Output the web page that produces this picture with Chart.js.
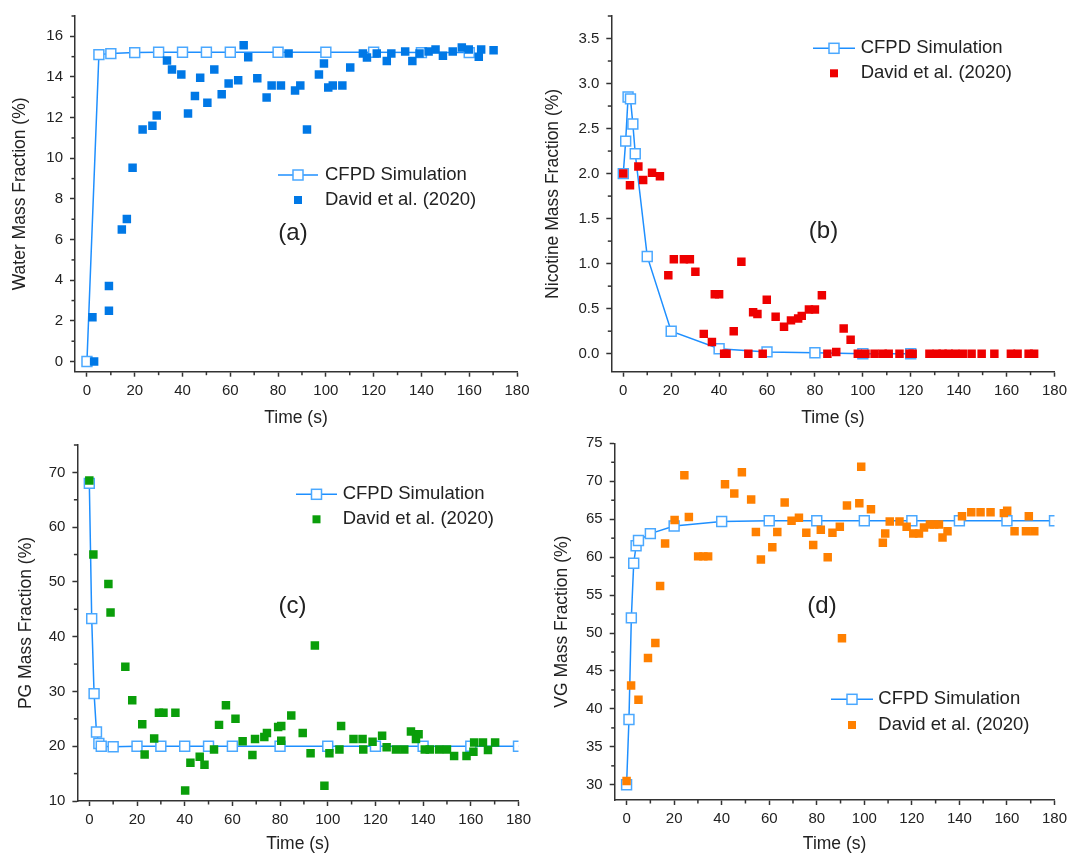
<!DOCTYPE html>
<html>
<head>
<meta charset="utf-8">
<script src="https://cdn.jsdelivr.net/npm/chart.js@4.4.1/dist/chart.umd.min.js"></script>
<style>
  html, body { margin: 0; padding: 0; background: #fff; }
  #page { position: relative; width: 1072px; height: 855px; overflow: hidden; }
  #page canvas { position: absolute; }
</style>
</head>
<body>
<div id="page">
  <canvas id="chartA" width="536" height="440" style="left:0;top:0"></canvas>
  <canvas id="chartB" width="536" height="440" style="left:536px;top:0"></canvas>
  <canvas id="chartC" width="536" height="435" style="left:0;top:420px"></canvas>
  <canvas id="chartD" width="536" height="435" style="left:536px;top:420px"></canvas>
</div>
<script>
// Tick values
const timeTicks = [0, 20, 40, 60, 80, 100, 120, 140, 160, 180];
const waterTicks = [0, 2, 4, 6, 8, 10, 12, 14, 16];
const nicotineTicks = [0, 0.5, 1, 1.5, 2, 2.5, 3, 3.5];
const pgTicks = [10, 20, 30, 40, 50, 60, 70];
const vgTicks = [30, 35, 40, 45, 50, 55, 60, 65, 70, 75];

// (a) water
const waterSimT = [0, 5, 10, 20, 30, 40, 50, 60, 80, 100, 120, 140, 160];
const waterSimY = [0, 15.1, 15.15, 15.2, 15.22, 15.22, 15.22, 15.22, 15.22, 15.22, 15.22, 15.2, 15.2];
const waterExpT = [2.3, 3, 9.2, 9.2, 14.6, 16.7, 19.1, 23.3, 27.4, 29.2, 33.5, 35.6, 39.5, 42.3, 45.2, 47.4,
  50.4, 53.3, 56.4, 59.3, 63.3, 65.6, 67.5, 71.3, 75.2, 77.3, 81.2, 84.4, 87.1, 89.3, 92.1, 97.1, 99.2,
  101, 102.9, 106.9, 110.2, 115.5, 117.2, 121.3, 125.5, 127.4, 133.2, 136.2, 139.2, 143, 145.9, 149,
  153.1, 156.9, 159.8, 164, 165, 170.2];
const waterExpY = [2.18, 0, 3.72, 2.5, 6.5, 7.01, 9.53, 11.42, 11.6, 12.1, 14.81, 14.37, 14.12, 12.2, 13.06, 13.96,
  12.73, 14.37, 13.15, 13.68, 13.84, 15.56, 14.97, 13.94, 12.99, 13.58, 13.58, 15.15, 13.33, 13.58, 11.42, 14.12, 14.66,
  13.48, 13.58, 13.58, 14.47, 15.15, 14.96, 15.15, 14.79, 15.15, 15.25, 14.79, 15.15, 15.25, 15.35, 15.04,
  15.25, 15.45, 15.35, 14.99, 15.35, 15.32];

// (b) nicotine
const nicSimT = [0, 1, 2, 3, 4, 5, 10, 20, 40, 60, 80, 100, 120];
const nicSimY = [2.0, 2.36, 2.85, 2.83, 2.55, 2.22, 1.08, 0.25, 0.055, 0.02, 0.01, 0, 0];
const nicExpT = [0, 2.8, 6.3, 8.3, 12, 15.3, 18.8, 21.1, 25.3, 27.8, 30.1, 33.6, 37, 38.2, 40, 42.1, 43.1,
  46.1, 49.3, 52.2, 54.2, 56, 58.2, 59.9, 63.6, 67.1, 70, 73, 74.5, 77.5, 80, 82.9, 85.2, 88.9, 92, 94.9,
  97.9, 101.1, 104.9, 108.3, 110.8, 115.3, 119.5, 120.8, 127.8, 130.8, 133.3, 135.8, 138.6, 141.7,
  145.4, 149.6, 154.9, 161.8, 164.6, 169.2, 171.5];
const nicExpY = [2.0, 1.87, 2.08, 1.93, 2.01, 1.97, 0.87, 1.05, 1.05, 1.05, 0.91, 0.22, 0.13, 0.66, 0.66, 0, 0,
  0.25, 1.02, 0, 0.46, 0.44, 0, 0.6, 0.41, 0.3, 0.37, 0.39, 0.42, 0.49, 0.49, 0.65, 0, 0.02, 0.28, 0.155,
  0, 0, 0, 0, 0, 0, 0, 0, 0, 0, 0, 0, 0, 0,
  0, 0, 0, 0, 0, 0, 0];

// (c) propylene glycol
const pgSimT = [0, 1, 2, 3, 4, 5, 10, 20, 30, 40, 50, 60, 80, 100, 120, 140, 160, 180];
const pgSimY = [68, 43.3, 29.6, 22.6, 20.5, 20.0, 19.9, 20, 20, 20, 20, 20, 20, 20, 20, 20, 20, 20];
const pgExpT = [0, 1.7, 8, 8.9, 15.1, 18, 22.2, 23.2, 27.2, 29.2, 31.1, 36.1, 40.2, 42.4, 46.3, 48.3, 52.3,
  54.4, 57.3, 61.3, 64.3, 68.4, 69.5, 73.4, 74.5, 79.2, 80.5, 80.5, 84.7, 89.5, 92.8, 94.6, 98.6, 100.7,
  104.9, 105.6, 110.8, 114.6, 114.9, 118.8, 122.8, 124.7, 128.6, 132.1, 134.9, 137, 138.1, 140.7, 142.8,
  146.7, 150, 153, 158.2, 161.1, 161.4, 165.1, 167.2, 170.2];
const pgExpY = [68.5, 55, 49.6, 44.4, 34.5, 28.4, 24, 18.5, 21.4, 26.1, 26.1, 26.1, 11.9, 17, 18.1, 16.6, 19.4,
  23.9, 27.5, 25, 20.9, 18.4, 21.3, 21.7, 22.4, 23.5, 23.7, 21, 25.6, 22.4, 18.7, 38.4, 12.8, 18.7,
  19.4, 23.7, 21.3, 21.3, 19.4, 20.8, 21.9, 19.8, 19.4, 19.4, 22.7, 21.3, 22.2, 19.4, 19.4,
  19.4, 19.4, 18.2, 18.2, 19, 20.7, 20.7, 19.3, 20.7];

// (d) vegetable glycerin
const vgSimT = [0, 1, 2, 3, 4, 5, 10, 20, 40, 60, 80, 100, 120, 140, 160, 180];
const vgSimY = [30, 38.6, 52, 59.2, 61.5, 62.2, 63.1, 64.1, 64.7, 64.8, 64.8, 64.8, 64.8, 64.8, 64.8, 64.8];
const vgExpT = [0, 1.9, 5, 9, 12.1, 14.1, 16.2, 20.2, 24.3, 26.2, 30.1, 32.3, 34.3, 41.4, 45.3, 48.5, 52.4,
  54.4, 56.5, 61.3, 63.4, 66.5, 69.4, 72.5, 75.6, 78.5, 81.7, 84.6, 86.6, 89.7, 90.6, 92.7, 97.9, 98.7,
  102.8, 107.8, 108.8, 110.7, 114.8, 117.8, 120.6, 123, 125.1, 127.6, 129.4, 131.4, 132.9, 135, 141.1,
  145, 148.9, 153.1, 158.7, 160.1, 163.2, 168, 169.2, 171.5];
const vgExpY = [30.5, 43.1, 41.2, 46.7, 48.7, 56.2, 61.8, 64.9, 70.8, 65.3, 60.1, 60.1, 60.1, 69.6, 68.4, 71.2, 67.6,
  63.3, 59.7, 61.3, 63.3, 67.2, 64.8, 65.2, 63.2, 61.6, 63.6, 60, 63.2, 64, 49.3, 66.8, 67.1, 71.9,
  66.3, 61.9, 63.1, 64.7, 64.7, 64, 63.1, 63.1, 63.9, 64.3, 64.3, 64.3, 62.6, 63.4, 65.4,
  65.9, 65.9, 65.9, 65.8, 66.1, 63.4, 63.4, 65.4, 63.4];

const AXIS = '#333';
const TEXT = '#222';
const SIM_LINE = '#1e8fff';
const SIM_EDGE = '#4aa8ff';
const FAMILY = '"Liberation Sans", Arial, sans-serif';

Chart.defaults.font.family = FAMILY;

// short ticks halfway between the labelled ones
const minorTicks = {
  id: 'minorTicks',
  afterDraw(chart) {
    const ctx = chart.ctx;
    ctx.save();
    ctx.strokeStyle = AXIS;
    ctx.lineWidth = 1.5;
    Object.values(chart.scales).forEach(scale => {
      const major = scale.ticks.map(t => t.value);
      const half = (major[1] - major[0]) / 2;
      for (let v = major[0] - half; v <= scale.max + 1e-9; v += 2 * half) {
        if (v < scale.min) continue;
        const p = scale.getPixelForValue(v);
        ctx.beginPath();
        if (scale.isHorizontal()) {
          ctx.moveTo(p, scale.top);
          ctx.lineTo(p, scale.top + 3.5);
        } else {
          ctx.moveTo(scale.right, p);
          ctx.lineTo(scale.right - 3.5, p);
        }
        ctx.stroke();
      }
    });
    ctx.restore();
  }
};

// legend box inside the plot plus the panel letter
const panelLegend = {
  id: 'panelLegend',
  afterDraw(chart, args, o) {
    const ctx = chart.ctx;
    const [sim, exp] = chart.data.datasets;
    ctx.save();
    ctx.strokeStyle = sim.borderColor;
    ctx.lineWidth = 1.5;
    ctx.beginPath();
    ctx.moveTo(o.x0, o.y1);
    ctx.lineTo(o.x1, o.y1);
    ctx.stroke();
    const mx = (o.x0 + o.x1) / 2;
    ctx.fillStyle = '#fff';
    ctx.strokeStyle = sim.pointBorderColor;
    ctx.fillRect(mx - 5, o.y1 - 5, 10, 10);
    ctx.strokeRect(mx - 5, o.y1 - 5, 10, 10);
    ctx.fillStyle = exp.pointBackgroundColor;
    ctx.fillRect(mx - 4, o.y2 - 4, 8, 8);

    ctx.fillStyle = TEXT;
    ctx.textBaseline = 'middle';
    ctx.textAlign = 'left';
    ctx.font = '18.5px ' + FAMILY;
    ctx.fillText(sim.label, o.tx, o.y1);
    ctx.fillText(exp.label, o.tx, o.y2);

    ctx.textAlign = 'center';
    ctx.font = '24px ' + FAMILY;
    ctx.fillText(o.tag, o.tagX, o.tagY);
    ctx.restore();
  }
};

Chart.register(minorTicks, panelLegend);

const toPoints = (xs, ys) => xs.map((x, i) => ({ x: x, y: ys[i] }));
const tickFont = { size: 15 };
const titleFont = { size: 17.5 };

function makePanel(id, p) {
  return new Chart(document.getElementById(id), {
    type: 'scatter',
    data: {
      datasets: [
        {
          label: 'CFPD Simulation',
          data: toPoints(p.simT, p.simY),
          showLine: true,
          borderColor: SIM_LINE,
          borderWidth: 1.5,
          tension: 0,
          pointStyle: 'rect',
          pointRadius: 7,
          pointBackgroundColor: '#fff',
          pointBorderColor: SIM_EDGE,
          pointBorderWidth: 1.5,
          order: 1
        },
        {
          label: 'David et al. (2020)',
          data: toPoints(p.expT, p.expY),
          pointStyle: 'rect',
          pointRadius: 6,
          pointBackgroundColor: p.color,
          pointBorderWidth: 0,
          order: 0
        }
      ]
    },
    options: {
      responsive: false,
      animation: false,
      events: [],
      layout: { padding: p.pad },
      plugins: {
        legend: { display: false },
        tooltip: { enabled: false },
        panelLegend: p.legend
      },
      scales: {
        x: {
          type: 'linear',
          min: -5,
          max: 180,
          afterBuildTicks: s => { s.ticks = timeTicks.map(v => ({ value: v })); },
          afterFit: s => { s.height = p.xHeight; },
          grid: { drawOnChartArea: false, tickLength: 5, tickWidth: 1.5, tickColor: AXIS },
          border: { color: AXIS, width: 1.5 },
          ticks: { color: TEXT, font: tickFont, padding: 5, maxRotation: 0 },
          title: { display: true, text: 'Time (s)', color: TEXT, font: titleFont, padding: { top: 0, bottom: p.xTitlePad } }
        },
        y: {
          type: 'linear',
          min: p.yMin,
          max: p.yMax,
          afterBuildTicks: s => { s.ticks = p.yTicks.map(v => ({ value: v })); },
          afterFit: s => { s.width = p.yWidth; },
          grid: { drawOnChartArea: false, tickLength: 5, tickWidth: 1.5, tickColor: AXIS },
          border: { color: AXIS, width: 1.5 },
          ticks: { color: TEXT, font: tickFont, padding: 7, callback: p.yFormat || (v => v) },
          title: { display: true, text: p.yTitle, color: TEXT, font: titleFont, padding: { top: p.yTitlePad, bottom: 0 } }
        }
      }
    }
  });
}

makePanel('chartA', {
  simT: waterSimT, simY: waterSimY, expT: waterExpT, expY: waterExpY, color: '#0078e6',
  yTicks: waterTicks, yMin: -0.5, yMax: 17, yTitle: 'Water Mass Fraction (%)',
  pad: { left: 0, top: 15, right: 19, bottom: 8.3 }, yWidth: 75, xHeight: 60, xTitlePad: 2.9, yTitlePad: 9.5,
  legend: { x0: 278, x1: 318, y1: 175, y2: 200, tx: 325, tag: '(a)', tagX: 293, tagY: 233 }
});

makePanel('chartB', {
  simT: nicSimT, simY: nicSimY, expT: nicExpT, expY: nicExpY, color: '#ee0000',
  yTicks: nicotineTicks, yMin: -0.2, yMax: 3.75, yTitle: 'Nicotine Mass Fraction (%)', yFormat: v => v.toFixed(1),
  pad: { left: 0, top: 15, right: 17, bottom: 8.3 }, yWidth: 75.3, xHeight: 60, xTitlePad: 2.9, yTitlePad: 6.5,
  legend: { x0: 277, x1: 319, y1: 48.3, y2: 73.3, tx: 324.7, tag: '(b)', tagX: 287.5, tagY: 231 }
});

makePanel('chartC', {
  simT: pgSimT, simY: pgSimY, expT: pgExpT, expY: pgExpY, color: '#0a9e0a',
  yTicks: pgTicks, yMin: 10, yMax: 75, yTitle: 'PG Mass Fraction (%)',
  pad: { left: 0, top: 25, right: 16.7, bottom: 0 }, yWidth: 77.4, xHeight: 54, xTitlePad: 0, yTitlePad: 15.5,
  legend: { x0: 296, x1: 337, y1: 74.3, y2: 99.3, tx: 342.7, tag: '(c)', tagX: 292.5, tagY: 186 }
});

makePanel('chartD', {
  simT: vgSimT, simY: vgSimY, expT: vgExpT, expY: vgExpY, color: '#ff8000',
  yTicks: vgTicks, yMin: 28, yMax: 75, yTitle: 'VG Mass Fraction (%)',
  pad: { left: 0, top: 23.3, right: 15.1, bottom: 0 }, yWidth: 78.7, xHeight: 55, xTitlePad: 0, yTitlePad: 15.5,
  legend: { x0: 295, x1: 337, y1: 279.3, y2: 305, tx: 342.3, tag: '(d)', tagX: 286, tagY: 186 }
});
</script>
</body>
</html>
